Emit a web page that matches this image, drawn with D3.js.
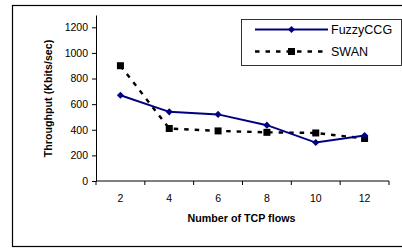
<!DOCTYPE html>
<html>
<head>
<meta charset="utf-8">
<script src="https://cdn.jsdelivr.net/npm/d3@7"></script>
<style>
  body { margin: 0; background: #fff; }
  text { font-family: Arial, "Liberation Sans", sans-serif; }
</style>
</head>
<body>
<svg id="chart" width="402" height="251"></svg>
<script>
const flows = ["2", "4", "6", "8", "10", "12"];
const fuzzyccg = [670, 540, 520, 436, 300, 355];
const swan = [900, 410, 391, 380, 375, 332];
const yTicks = [0, 200, 400, 600, 800, 1000, 1200];

const svg = d3.select("#chart");
const margin = {top: 15, left: 96, right: 13, bottom: 70};
const width = 402 - margin.left - margin.right;
const height = 251 - margin.top - margin.bottom;

// outer frame
svg.append("rect")
    .attr("x", 12.5).attr("y", 5.5)
    .attr("width", 400).attr("height", 241)
    .attr("fill", "none").attr("stroke", "#000").attr("stroke-width", 1.2);

const g = svg.append("g").attr("transform", "translate(" + margin.left + "," + margin.top + ")");

const x = d3.scaleBand().domain(flows).range([0, width]);
const y = d3.scaleLinear().domain([0, 1296]).range([height, 0]);

// y axis
const yAxis = g.append("g")
    .call(d3.axisLeft(y).tickValues(yTicks).tickFormat(d3.format("d")).tickSize(4).tickSizeOuter(0));
yAxis.select(".domain").attr("stroke", "#000");
yAxis.selectAll("text").attr("font-size", 10.5).attr("fill", "#000").attr("dx", -1)
    .attr("font-family", "Arial, 'Liberation Sans', sans-serif");

// x axis with ticks between categories
const xAxis = g.append("g").attr("transform", "translate(0," + height + ")");
xAxis.append("line").attr("x1", 0).attr("x2", width).attr("stroke", "#000");
const edges = flows.map(d => x(d)).concat([width]);
xAxis.selectAll(".tk").data(edges).join("line")
    .attr("x1", d => d).attr("x2", d => d)
    .attr("y1", 0).attr("y2", 4).attr("stroke", "#000");
xAxis.selectAll(".lb").data(flows).join("text")
    .attr("x", d => x(d) + x.bandwidth() / 2)
    .attr("y", 21)
    .attr("text-anchor", "middle")
    .attr("font-size", 10.5)
    .text(d => d);

// axis titles
g.append("text")
    .attr("transform", "rotate(-90)")
    .attr("x", -83.5).attr("y", -44.5)
    .attr("text-anchor", "middle")
    .attr("font-size", 10.7).attr("font-weight", "bold")
    .text("Throughput (Kbits/sec)");

g.append("text")
    .attr("x", width / 2 - 1).attr("y", height + 41)
    .attr("text-anchor", "middle")
    .attr("font-size", 10.7).attr("font-weight", "bold")
    .text("Number of TCP flows");

const cx = i => x(flows[i]) + x.bandwidth() / 2;
const line = d3.line().x((d, i) => cx(i)).y(d => y(d));

// SWAN
g.append("path").datum(swan)
    .attr("fill", "none").attr("stroke", "#000")
    .attr("stroke-width", 2.4).attr("stroke-dasharray", "4.5,6")
    .attr("d", line);
g.selectAll(".sq").data(swan).join("rect")
    .attr("x", (d, i) => cx(i) - 3.5).attr("y", d => y(d) - 3.5)
    .attr("width", 7).attr("height", 7).attr("fill", "#000");

// FuzzyCCG
g.append("path").datum(fuzzyccg)
    .attr("fill", "none").attr("stroke", "#000080")
    .attr("stroke-width", 2).attr("d", line);
const diamond = d3.symbol().type(d3.symbolDiamond2).size(32);
g.selectAll(".dm").data(fuzzyccg).join("path")
    .attr("transform", (d, i) => "translate(" + cx(i) + "," + y(d) + ")")
    .attr("d", diamond).attr("fill", "#000080");

// legend
const lg = svg.append("g");
lg.append("rect")
    .attr("x", 241.5).attr("y", 19.5).attr("width", 160).attr("height", 46)
    .attr("fill", "#fff").attr("stroke", "#000").attr("stroke-width", 0.8);
lg.append("line").attr("x1", 255).attr("x2", 328).attr("y1", 29.5).attr("y2", 29.5)
    .attr("stroke", "#000080").attr("stroke-width", 2);
lg.append("path").attr("transform", "translate(291.5,29.5)").attr("d", diamond).attr("fill", "#000080");
lg.append("text").attr("x", 331).attr("y", 34).attr("font-size", 12.5).text("FuzzyCCG");
lg.append("line").attr("x1", 255).attr("x2", 328).attr("y1", 51.5).attr("y2", 51.5)
    .attr("stroke", "#000").attr("stroke-width", 2.4).attr("stroke-dasharray", "4.5,6");
lg.append("rect").attr("x", 288).attr("y", 48).attr("width", 7).attr("height", 7).attr("fill", "#000");
lg.append("text").attr("x", 331).attr("y", 56).attr("font-size", 12.5).text("SWAN");
</script>
</body>
</html>
